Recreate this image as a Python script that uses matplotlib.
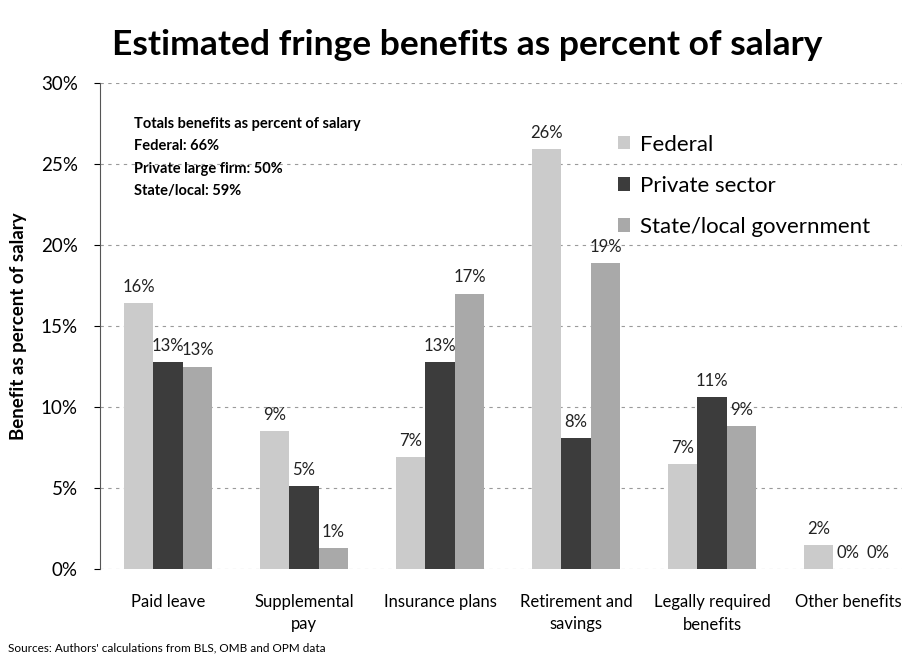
import numpy as np
import matplotlib
matplotlib.use("Agg")
import matplotlib.pyplot as plt

categories = ["Paid leave", "Supplemental\npay", "Insurance plans",
              "Retirement and\nsavings", "Legally required\nbenefits", "Other benefits"]
series = ["Federal", "Private sector", "State/local government"]
federal = [16.4, 8.5, 6.9, 25.9, 6.5, 1.5]
private = [12.8, 5.1, 12.8, 8.1, 10.6, 0.0]
state_local = [12.5, 1.3, 17.0, 18.9, 8.8, 0.0]
colors = ["#cbcbcb", "#3c3c3c", "#a9a9a9"]
y_ticks = [0, 5, 10, 15, 20, 25, 30]

plt.rcParams["font.family"] = ["Lato", "DejaVu Sans"]

fig = plt.figure(figsize=(9.03, 6.59), dpi=100)
ax = fig.add_axes([100 / 903, 90 / 659, 816 / 903, 486 / 659])

x = np.arange(len(categories))
w = 0.217
for i, (vals, name, c) in enumerate(zip([federal, private, state_local], series, colors)):
    bars = ax.bar(x + (i - 1) * w, vals, w, color=c, label=name, zorder=2)
    for b, v in zip(bars, vals):
        ax.text(b.get_x() + b.get_width() / 2, v + 0.5, f"{int(v + 0.5)}%",
                ha="center", va="bottom", fontsize=12, color="#222222")

ax.set_xlim(-0.5, 5.5)
ax.set_ylim(0, 30)
ax.set_yticks(y_ticks)
ax.set_yticklabels([f"{t}%" for t in y_ticks], fontsize=13.5)
ax.set_xticks(x)
ax.set_xticklabels(categories, fontsize=12, linespacing=1.5)
ax.tick_params(axis="x", length=0, pad=18)
ax.tick_params(axis="y", length=4, direction="out", pad=12)
ax.yaxis.grid(True, linestyle=(0, (3, 4)), color="#9a9a9a", linewidth=0.8, zorder=0)
for s in ["top", "right", "bottom"]:
    ax.spines[s].set_visible(False)
ax.spines["left"].set_color("#555555")
ax.spines["left"].set_linewidth(0.8)

ax.set_ylabel("Benefit as percent of salary", fontsize=13.5, fontweight="bold", labelpad=10)

ax.text(0.042, 0.93, "Totals benefits as percent of salary\nFederal: 66%\nPrivate large firm: 50%\nState/local: 59%",
        transform=ax.transAxes, fontsize=10.5, fontweight="bold", va="top", ha="left",
        linespacing=1.75)

ax.legend(loc="upper left", bbox_to_anchor=(0.61, 0.935), frameon=False, fontsize=16,
          handlelength=0.55, handleheight=0.55, handletextpad=0.45, labelspacing=0.95)

fig.text(0.517, 0.932, "Estimated fringe benefits as percent of salary", ha="center",
         va="center", fontsize=25.5, fontweight="bold")
fig.text(0.009, 0.012, "Sources: Authors' calculations from BLS, OMB and OPM data", fontsize=8.5)

fig.savefig("out.png", dpi=100)
